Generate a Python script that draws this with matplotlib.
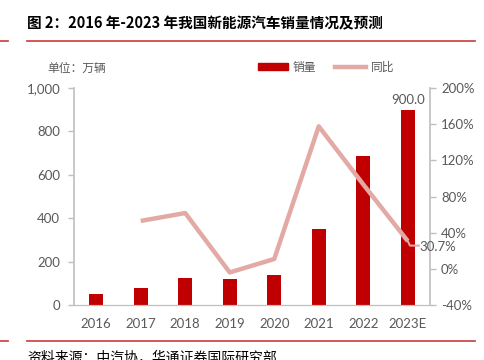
import matplotlib
matplotlib.use("Agg")
import matplotlib.pyplot as plt
from matplotlib.lines import Line2D
from matplotlib.patches import Patch
from matplotlib.ticker import FuncFormatter

plt.rcParams['font.family'] = ['Noto Sans CJK SC', 'DejaVu Sans']

years = ['2016', '2017', '2018', '2019', '2020', '2021', '2022', '2023E']
sales = [50.7, 77.7, 125.6, 120.6, 136.7, 352.1, 688.7, 900.0]
yoy = [None, 53.0, 61.7, -4.0, 10.9, 157.6, 93.4, 30.7]

bar_color = '#C00000'
line_color = '#E2A9A5'
gray = '#595959'
axis_gray = '#BFBFBF'
num_font = ['Lato', 'DejaVu Sans']

fig = plt.figure(figsize=(4.85, 3.6), dpi=100)
ax = fig.add_axes([74 / 485, 1 - 305 / 360, 356 / 485, 217 / 360])
ax2 = ax.twinx()

x = list(range(len(years)))
ax.bar(x, sales, width=0.31, color=bar_color, zorder=2)
ax.set_xlim(-0.5, 7.5)
ax.set_ylim(0, 1000)
ax.set_yticks([0, 200, 400, 600, 800, 1000])
ax.yaxis.set_major_formatter(FuncFormatter(lambda v, p: f'{v:,.0f}'))
ax.set_xticks(x)
ax.set_xticklabels(years)

lx = [i for i, v in enumerate(yoy) if v is not None]
ly = [v for v in yoy if v is not None]
ax2.plot(lx, ly, color=line_color, lw=3.2, solid_capstyle='butt', zorder=3)
ax2.set_ylim(-40, 200)
ax2.set_yticks([-40, 0, 40, 80, 120, 160, 200])
ax2.yaxis.set_major_formatter(FuncFormatter(lambda v, p: f'{v:.0f}%'))

for a in (ax, ax2):
    a.spines['top'].set_visible(False)
    a.spines['left'].set_color(axis_gray)
    a.spines['right'].set_color(axis_gray)
    a.spines['bottom'].set_color(axis_gray)
    a.spines['left'].set_linewidth(1.2)
    a.spines['right'].set_linewidth(1.2)
    a.tick_params(colors=axis_gray, labelcolor=gray, labelsize=9.5, length=4, width=1)
    for t in a.get_yticklabels() + a.get_xticklabels():
        t.set_fontfamily(num_font)
ax.spines['right'].set_visible(False)
ax2.spines['left'].set_visible(False)
ax.tick_params(axis='x', length=0, pad=9)
ax.tick_params(axis='y', pad=6)
ax2.tick_params(axis='y', pad=4)

# data labels
ax.text(7, sales[7] + 18, f'{sales[7]:.1f}', ha='center', va='bottom',
        fontsize=9.5, color=gray, family=num_font)
ax2.plot([7, 7.05, 7.25], [yoy[7], yoy[7] - 5, yoy[7] - 5], color=line_color, lw=1.5, zorder=3)
ax2.text(7.27, yoy[7] - 6, f'{yoy[7]:.1f}%', ha='left', va='center',
         fontsize=9.5, color=gray, family=num_font, clip_on=False)

# legend and unit
handles = [Patch(color=bar_color), Line2D([0], [0], color=line_color, lw=3.2)]
fig.legend(handles, ['销量', '同比'], loc='center left',
           bbox_to_anchor=(247 / 485, 1 - 67 / 360), ncol=2, frameon=False,
           fontsize=8.5, handlelength=2.6, handleheight=0.5, columnspacing=1.6,
           handletextpad=0.4, labelcolor=gray)
fig.text(47 / 485, 1 - 68 / 360, '单位：万辆', fontsize=8.5, color=gray, va='center')

# title and rules
fig.text(27 / 485, 1 - 23 / 360, '图 2：2016 年-2023 年我国新能源汽车销量情况及预测',
         fontsize=10.5, fontweight='bold', color='black', va='center')
rule = '#D04A4A'
for yy in (40.5, 341):
    fig.add_artist(Line2D([0, 8 / 485], [1 - yy / 360] * 2, color=rule, lw=1.3))
    fig.add_artist(Line2D([27 / 485, 475 / 485], [1 - yy / 360] * 2, color=rule, lw=1.3))
fig.text(27 / 485, 1 - 350 / 360, '资料来源：中汽协，华通证券国际研究部',
         fontsize=10, color='black', va='top')

fig.savefig('out.png', dpi=100)
